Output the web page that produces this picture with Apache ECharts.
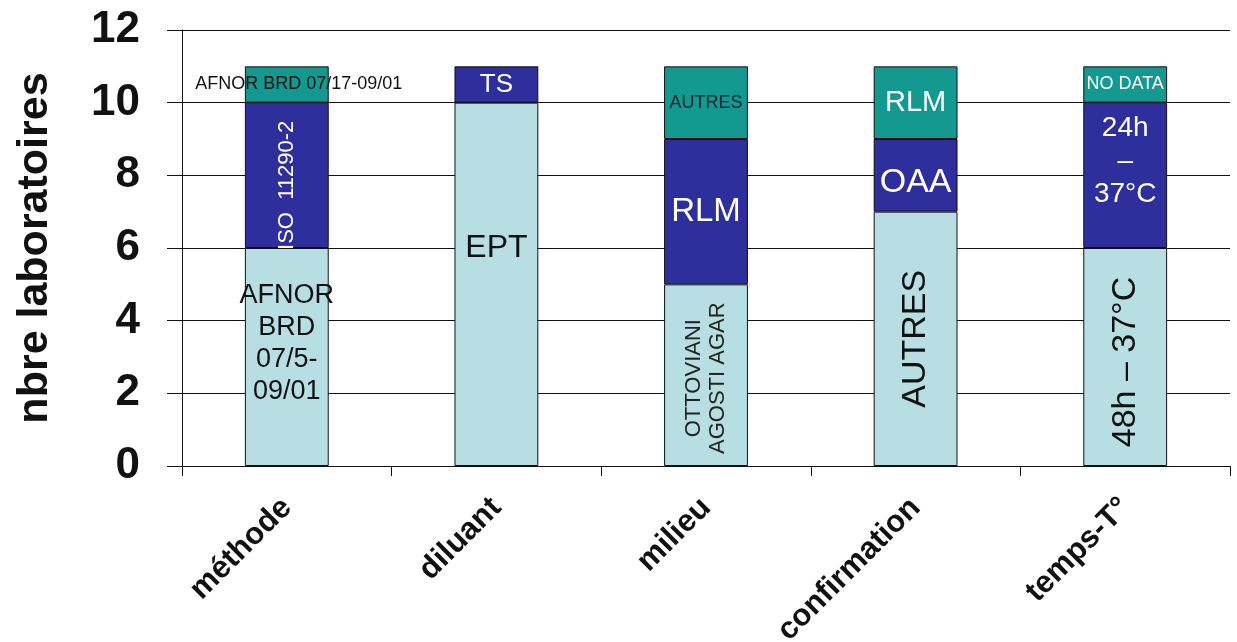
<!DOCTYPE html>
<html>
<head>
<meta charset="utf-8">
<script src="https://cdn.jsdelivr.net/npm/echarts@6/dist/echarts.min.js"></script>
<style>
  html, body { margin: 0; padding: 0; background: #fff; }
  #chart { width: 1237px; height: 642px; }
</style>
</head>
<body>
<div id="chart"></div>
<script>
// data
const categories = ['méthode', 'diluant', 'milieu', 'confirmation', 'temps-T°'];
const lowValues = [6, 10, 5, 7, 6];
const midValues = [4, 1, 4, 2, 4];
const topValues = [1, 0, 2, 2, 1];
const lowLabels = ['AFNOR\nBRD\n07/5-\n09/01', 'EPT', 'OTTOVIANI\nAGOSTI AGAR', 'AUTRES', '48h – 37°C'];
const midLabels = ['ISO  11290-2', 'TS', 'RLM', 'OAA', '24h\n–\n37°C'];
const topLabels = ['AFNOR BRD 07/17-09/01', '', 'AUTRES', 'RLM', 'NO DATA'];
const yTicks = [0, 2, 4, 6, 8, 10, 12];

const FONT = '"Liberation Sans", Arial, sans-serif';

// label style per segment (same order as categories)
// note: offset of rotated labels is in the text's own frame ([-n, 0] moves a 90° label down)
const lowStyle = [
  { fontSize: 27, lineHeight: 32, color: '#111', offset: [0, -13] },
  { fontSize: 32, color: '#111', offset: [0, -36] },
  { fontSize: 22, lineHeight: 24, color: '#222', rotate: 90, offset: [-3, 0] },
  { fontSize: 34, color: '#111', rotate: 90 },
  { fontSize: 34, color: '#111', rotate: 90, offset: [-5, 0] },
];
const midStyle = [
  { fontSize: 22, color: '#fff', rotate: 90, offset: [-10, 0] },
  { fontSize: 26, color: '#fff' },
  { fontSize: 33, color: '#fff' },
  { fontSize: 34, color: '#fff', offset: [0, 7] },
  { fontSize: 28, lineHeight: 33, color: '#fff', offset: [0, -14] },
];
const topStyle = [
  { fontSize: 18, color: '#111', offset: [12, 0] },
  { fontSize: 18, color: '#fff' },
  { fontSize: 18, color: '#123' },
  { fontSize: 29, color: '#fff' },
  { fontSize: 18, color: '#fff' },
];

function buildData(values, texts, styles) {
  return values.map((v, i) => ({
    value: v,
    itemStyle: v === 0 ? { borderWidth: 0 } : undefined,
    label: {
      show: v > 0 && texts[i] !== '',
      formatter: texts[i],
      position: 'inside',
      fontFamily: FONT,
      lineHeight: Math.round(styles[i].fontSize * 1.15),
      ...styles[i],
    },
  }));
}

function makeSeries(name, color, values, texts, styles) {
  return {
    name,
    type: 'bar',
    stack: 'total',
    barWidth: '40%',
    itemStyle: { color, borderColor: '#111', borderWidth: 1 },
    label: { overflow: 'none' },
    data: buildData(values, texts, styles),
  };
}

const chart = echarts.init(document.getElementById('chart'));
chart.setOption({
  animation: false,
  backgroundColor: '#fff',
  grid: { left: 182, right: 7, top: 30, bottom: 176, containLabel: false, outerBoundsMode: 'none' },
  xAxis: {
    type: 'category',
    data: categories,
    axisLine: { lineStyle: { color: '#111', width: 1 } },
    axisTick: { show: true, length: 10, lineStyle: { color: '#111' } },
    axisLabel: {
      rotate: 45,
      margin: 37,
      fontSize: 31,
      fontWeight: 'bold',
      color: '#111',
      fontFamily: FONT,
      interval: 0,
    },
  },
  yAxis: {
    type: 'value',
    min: yTicks[0],
    max: yTicks[yTicks.length - 1],
    interval: 2,
    name: 'nbre laboratoires',
    nameLocation: 'middle',
    nameGap: 125,
    nameTextStyle: { fontSize: 43, fontWeight: 'bold', color: '#111', fontFamily: FONT },
    axisLine: { show: true, lineStyle: { color: '#111', width: 1 } },
    axisTick: { show: true, length: 15, lineStyle: { color: '#111' } },
    axisLabel: { fontSize: 44, fontWeight: 'bold', color: '#111', margin: 42, fontFamily: FONT },
    splitLine: { show: true, lineStyle: { color: '#111', width: 1 } },
  },
  series: [
    makeSeries('bas', '#b7dfe3', lowValues, lowLabels, lowStyle),
    makeSeries('milieu', '#2e2e9c', midValues, midLabels, midStyle),
    makeSeries('haut', '#13998f', topValues, topLabels, topStyle),
  ],
});
</script>
</body>
</html>
